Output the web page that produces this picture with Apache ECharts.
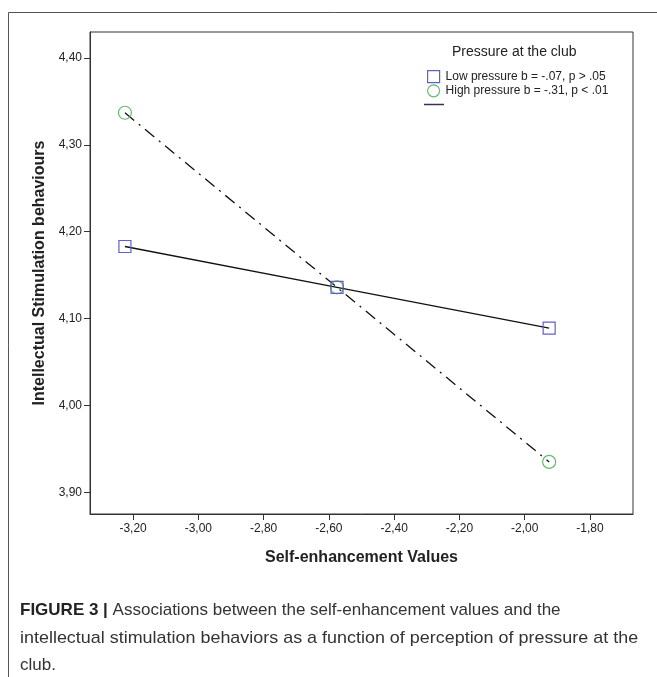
<!DOCTYPE html>
<html>
<head>
<meta charset="utf-8">
<script src="https://cdn.jsdelivr.net/npm/echarts@6/dist/echarts.min.js"></script>
<style>
  html, body { margin: 0; padding: 0; background: #fff; }
  #chartDiv { width: 657px; height: 677px; }
</style>
</head>
<body>
<div id="chartDiv"></div>
<script>
// data
var xValues = [-3.225, -2.575, -1.925];
var lowPressure = [4.183, 4.136, 4.089];
var highPressure = [4.337, 4.136, 3.935];
var xTicks = [-3.2, -3.0, -2.8, -2.6, -2.4, -2.2, -2.0, -1.8];
var yTicks = [3.9, 4.0, 4.1, 4.2, 4.3, 4.4];
var seriesNames = ['Low pressure b = -.07, p > .05', 'High pressure b = -.31, p < .01'];

function pairs(xs, ys) {
    var out = [];
    for (var i in xs) {
        out.push([xs[i], ys[i]]);
    }
    return out;
}

function commaFmt(v) {
    return v.toFixed(2).replace('.', ',');
}

var myChart = echarts.init(document.getElementById('chartDiv'));

var sans = 'Liberation Sans, Arial, sans-serif';
var axisFont = { fontFamily: sans, fontSize: 12, color: '#222' };

var option = {
    backgroundColor: '#fff',
    animation: false,
    grid: {
        left: 90, top: 32, right: 24, bottom: 163,
        show: true, borderColor: '#333', borderWidth: 1
    },
    xAxis: {
        type: 'value',
        min: -3.332,
        max: -1.668,
        splitLine: { show: false },
        axisLine: { show: true, onZero: false, lineStyle: { color: '#333', width: 1 } },
        axisTick: { show: true, length: 6, customValues: xTicks, lineStyle: { color: '#333' } },
        axisLabel: Object.assign({ customValues: xTicks, formatter: commaFmt, margin: 9 }, axisFont),
        name: 'Self-enhancement Values',
        nameLocation: 'middle',
        nameGap: 36,
        nameTextStyle: { fontFamily: sans, fontSize: 16, fontWeight: 'bold', color: '#222' }
    },
    yAxis: {
        type: 'value',
        min: 3.875,
        max: 4.43,
        splitLine: { show: false },
        axisLine: { show: true, onZero: false, lineStyle: { color: '#333', width: 1 } },
        axisTick: { show: true, length: 6, customValues: yTicks, lineStyle: { color: '#333' } },
        axisLabel: Object.assign({ customValues: yTicks, formatter: commaFmt, margin: 8 }, axisFont),
        name: 'Intellectual Stimulation behaviours',
        nameLocation: 'middle',
        nameGap: 42,
        nameTextStyle: { fontFamily: sans, fontSize: 16, fontWeight: 'bold', color: '#222' }
    },
    legend: {
        orient: 'vertical',
        left: 422,
        top: 65,
        itemWidth: 12,
        itemHeight: 12,
        itemGap: 1,
        textStyle: { fontFamily: sans, fontSize: 12, color: '#222', padding: [0, 0, 0, 1] },
        data: [
            { name: seriesNames[0], icon: 'rect', itemStyle: { color: 'rgba(0,0,0,0)', borderColor: '#5c62c8', borderWidth: 1.2 } },
            { name: seriesNames[1], icon: 'circle', itemStyle: { color: 'rgba(0,0,0,0)', borderColor: '#62bb70', borderWidth: 1.2 } }
        ]
    },
    series: [
        {
            name: seriesNames[0],
            type: 'line',
            data: pairs(xValues, lowPressure),
            symbol: 'rect',
            symbolSize: 12,
            itemStyle: { color: 'rgba(0,0,0,0)', borderColor: '#5c62c8', borderWidth: 1.2 },
            lineStyle: { color: '#111', width: 1.3, type: 'solid' },
            z: 3
        },
        {
            name: seriesNames[1],
            type: 'line',
            data: pairs(xValues, highPressure),
            symbol: 'circle',
            symbolSize: 13,
            itemStyle: { color: 'rgba(0,0,0,0)', borderColor: '#62bb70', borderWidth: 1.2 },
            lineStyle: { color: '#111', width: 1.3, type: [12, 6, 2, 6] },
            z: 2
        }
    ],
    graphic: [
        // outer figure frame
        { type: 'rect', shape: { x: 8.5, y: 12.5, width: 700, height: 700 }, style: { fill: 'none', stroke: '#555', lineWidth: 1 }, silent: true },
        // legend title
        { type: 'text', left: 452, top: 45, style: { text: 'Pressure at the club', fontFamily: sans, fontSize: 14, fill: '#222' } },
        // legend fit-line sample
        { type: 'line', shape: { x1: 424, y1: 104.5, x2: 444, y2: 104.5 }, style: { stroke: '#3a2f55', lineWidth: 1.5 } },
        // caption
        {
            type: 'text', left: 20, top: 602,
            style: {
                text: '{b|FIGURE 3 |} Associations between the self-enhancement values and the',
                fontFamily: sans, fontSize: 17, fill: '#333',
                rich: { b: { fontWeight: 'bold', fontSize: 17, fill: '#222', fontFamily: sans } }
            }
        },
        {
            type: 'text', x: 20, y: 630, scaleX: 1.055,
            style: { text: 'intellectual stimulation behaviors as a function of perception of pressure at the', fontFamily: sans, fontSize: 17, fill: '#333' }
        },
        {
            type: 'text', left: 20, top: 657,
            style: { text: 'club.', fontFamily: sans, fontSize: 17, fill: '#333' }
        }
    ]
};

myChart.setOption(option);
</script>
</body>
</html>
